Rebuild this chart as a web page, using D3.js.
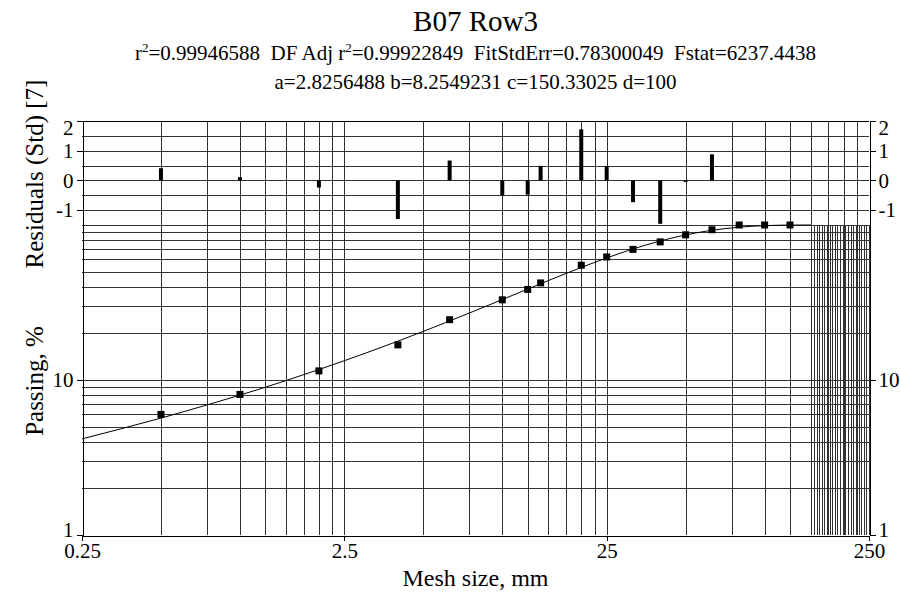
<!DOCTYPE html>
<html>
<head>
<meta charset="utf-8">
<script src="https://cdn.jsdelivr.net/npm/d3@7/dist/d3.min.js"></script>
<style>
  html, body { margin: 0; padding: 0; background: #fff; }
  svg { display: block; }
  svg text { font-family: 'Liberation Serif', 'Times New Roman', Tinos, 'Nimbus Roman', 'DejaVu Serif', serif !important; fill: #000; }
</style>
</head>
<body>
<svg id="chart" width="900" height="592"></svg>
<script>
// ---------------- data ----------------
const meshSize = [0.5, 1, 2, 4, 6.3, 10, 12.5, 14, 20, 25, 31.5, 40, 50, 63, 80, 100, 125];
const passing  = [6.0, 8.07, 11.45, 16.85, 24.5, 32.9, 38.4, 42.3, 55.0, 62.2, 69.6, 77.8, 86.4, 93.2, 100, 100, 100];
const residual = [0.41, 0.11, -0.24, -1.30, 0.67, -0.50, -0.48, 0.49, 1.72, 0.49, -0.73, -1.46, -0.05, 0.88, null, null, null];

// fitted curve as drawn in the reference
const curveSize    = [0.25, 0.35, 0.5, 0.75, 1, 1.5, 2, 3, 4, 5, 6, 8, 10, 12.5, 15, 20, 25, 30, 40, 50, 60, 70, 80, 90, 100, 110, 120, 130, 140, 150.33];
const curvePassing = [4.17, 4.83, 5.68, 6.91, 7.99, 9.92, 11.68, 14.87, 17.80, 20.59, 23.25, 28.29, 33.04, 38.61, 43.81, 53.20, 61.29, 68.19, 78.88, 86.29, 91.30, 94.63, 96.81, 98.20, 99.05, 99.55, 99.82, 99.95, 99.99, 100];
// undefined-fit region beyond c: vertical strokes drawn by the curve
const undefinedSize = [150.6, 154.1, 157.7, 161.4, 165.2, 169.0, 173.0, 177.0, 181.1, 185.3, 189.6, 194.1, 198.6, 203.2, 207.9, 212.8, 217.7, 222.8, 228.0, 233.3, 238.7, 244.3, 250];

// grid and tick values
const gridSize     = [0.5, 0.75, 1, 1.25, 1.5, 1.75, 2, 2.25, 2.5, 5, 7.5, 10, 12.5, 15, 17.5, 20, 22.5, 25, 50, 75, 100, 125, 150, 175, 200, 225];
const gridPassing  = [2, 3, 4, 5, 6, 7, 8, 9, 10, 20, 30, 40, 50, 60, 70, 80, 90, 100];
const gridResidual = [2, 1.5, 1, 0.5, 0, -0.5, -1];
const sizeTicks     = [0.25, 2.5, 25, 250];
const passingTicks  = [1, 10];
const residualTicks = [2, 1, 0, -1];

const titleText = "B07 Row3";
const statLine  = [["r", "2", "=0.99946588  DF Adj r"], ["", "2", "=0.99922849  FitStdErr=0.78300049  Fstat=6237.4438"]];
const paramLine = "a=2.8256488 b=8.2549231 c=150.33025 d=100";
const xLabel = "Mesh size, mm";
const yLabelRes = "Residuals (Std) [7]";
const yLabelPass = "Passing, %";

// ---------------- layout ----------------
const L = 82, R = 869, T = 121, M = 225, B = 535;
const FONT = "'Liberation Serif', 'Times New Roman', Tinos, 'Nimbus Roman', 'DejaVu Serif', serif";
const svg = d3.select("#chart");

const x = d3.scaleLog().domain([0.25, 250]).range([L, R]);
const yRes = d3.scaleLinear().domain([-1.5, 2]).range([M, T]);
const yPass = d3.scaleLog().domain([1, 100]).range([B, M]);

const gridColor = "#333";
const grid = svg.append("g").attr("shape-rendering", "crispEdges").attr("stroke", gridColor).attr("stroke-width", 1);

grid.selectAll("line.gx").data(gridSize).join("line")
  .attr("x1", d => Math.round(x(d)) + 0.5).attr("x2", d => Math.round(x(d)) + 0.5)
  .attr("y1", T).attr("y2", B);
grid.selectAll("line.ux").data(undefinedSize).join("line")
  .attr("x1", d => Math.round(x(d)) + 0.5).attr("x2", d => Math.round(x(d)) + 0.5)
  .attr("y1", yPass(100)).attr("y2", yPass(1));
grid.selectAll("line.gp").data(gridPassing).join("line")
  .attr("x1", L).attr("x2", R)
  .attr("y1", d => Math.round(yPass(d)) + 0.5).attr("y2", d => Math.round(yPass(d)) + 0.5);
grid.selectAll("line.gr").data(gridResidual).join("line")
  .attr("x1", L).attr("x2", R)
  .attr("y1", d => Math.round(yRes(d)) + 0.5).attr("y2", d => Math.round(yRes(d)) + 0.5);

const fontTick = 21;
function styleAxis(g) {
  g.attr("font-family", FONT);
  g.selectAll("path.domain").attr("stroke", "#000").attr("shape-rendering", "crispEdges");
  g.selectAll(".tick line").attr("stroke", "#000").attr("shape-rendering", "crispEdges");
  g.selectAll(".tick text").attr("font-size", fontTick).attr("font-family", FONT).attr("fill", "#000");
}
// extreme labels are kept inside the plot height, as in the reference
function nudge(g) {
  g.selectAll(".tick text").attr("dy", d => (d === 2 ? "0.62em" : d === 1 && g.classed("pass") ? "0.05em" : "0.32em"));
}
svg.append("g").attr("transform", `translate(${L + 0.5},0)`)
  .call(d3.axisLeft(yRes).tickValues(residualTicks).tickFormat(d => d).tickSize(6).tickSizeOuter(0).tickPadding(3))
  .call(styleAxis).call(nudge);
svg.append("g").attr("class", "pass").attr("transform", `translate(${L + 0.5},0)`)
  .call(d3.axisLeft(yPass).tickValues(passingTicks).tickFormat(d => d).tickSize(6).tickSizeOuter(0).tickPadding(3))
  .call(styleAxis).call(nudge);
svg.append("g").attr("transform", `translate(${R + 0.5},0)`)
  .call(d3.axisRight(yRes).tickValues(residualTicks).tickFormat(d => d).tickSize(6).tickSizeOuter(0).tickPadding(3))
  .call(styleAxis).call(nudge);
svg.append("g").attr("class", "pass").attr("transform", `translate(${R + 0.5},0)`)
  .call(d3.axisRight(yPass).tickValues(passingTicks).tickFormat(d => d).tickSize(6).tickSizeOuter(0).tickPadding(3))
  .call(styleAxis).call(nudge);
svg.append("g").attr("transform", `translate(0,${B + 0.5})`)
  .call(d3.axisBottom(x).tickValues(sizeTicks).tickFormat(d => String(d)).tickSize(5).tickSizeOuter(0).tickPadding(3))
  .call(styleAxis);
svg.append("line").attr("x1", L).attr("x2", R).attr("y1", T + 0.5).attr("y2", T + 0.5)
  .attr("stroke", "#000").attr("shape-rendering", "crispEdges");

svg.append("g").selectAll("rect").data(meshSize.map((s, i) => ({s, r: residual[i]})).filter(d => d.r !== null))
  .join("rect")
  .attr("x", d => x(d.s) - 2)
  .attr("width", 4)
  .attr("y", d => Math.min(yRes(0), yRes(d.r)))
  .attr("height", d => Math.abs(yRes(d.r) - yRes(0)))
  .attr("fill", "#000");

const line = d3.line().x(d => x(d[0])).y(d => yPass(d[1])).curve(d3.curveMonotoneX);
svg.append("path").datum(curveSize.map((s, i) => [s, curvePassing[i]]))
  .attr("d", line).attr("fill", "none").attr("stroke", "#000").attr("stroke-width", 1);

svg.append("g").selectAll("rect").data(meshSize.map((s, i) => [s, passing[i]]))
  .join("rect")
  .attr("x", d => x(d[0]) - 3.5).attr("y", d => yPass(d[1]) - 3.5)
  .attr("width", 7).attr("height", 7).attr("fill", "#000");

const cx = (L + R) / 2;
const txt = svg.append("g").attr("font-family", FONT);
txt.append("text").attr("x", cx).attr("y", 31).attr("text-anchor", "middle").attr("font-size", 29).text(titleText);
const st = txt.append("text").attr("x", cx).attr("y", 60).attr("text-anchor", "middle").attr("font-size", 21).attr("xml:space", "preserve");
statLine.forEach(p => {
  if (p[0]) st.append("tspan").text(p[0]);
  st.append("tspan").attr("font-size", 13).attr("dy", -8).text(p[1]);
  st.append("tspan").attr("dy", 8).text(p[2]);
});
txt.append("text").attr("x", cx).attr("y", 89).attr("text-anchor", "middle").attr("font-size", 21).text(paramLine);

txt.append("text").attr("x", cx).attr("y", 586).attr("text-anchor", "middle").attr("font-size", 24).text(xLabel);
txt.append("text").attr("transform", `translate(43,174) rotate(-90)`).attr("text-anchor", "middle").attr("font-size", 25).text(yLabelRes);
txt.append("text").attr("transform", `translate(43,381) rotate(-90)`).attr("text-anchor", "middle").attr("font-size", 25).text(yLabelPass);
</script>
</body>
</html>
